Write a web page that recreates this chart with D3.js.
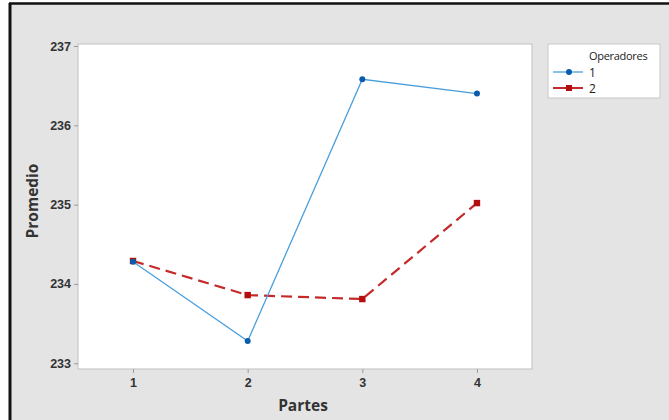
<!DOCTYPE html>
<html>
<head>
<meta charset="utf-8">
<script src="https://cdn.jsdelivr.net/npm/d3@7/dist/d3.min.js"></script>
<style>
  html, body { margin: 0; padding: 0; background: #ffffff; }
  svg { display: block; font-family: "Open Sans", "Noto Sans", sans-serif; }
</style>
</head>
<body>
<svg id="chart" width="669" height="420"></svg>
<script>
// Interaction plot data: mean per part for each operator
const partes = [1, 2, 3, 4];
const operador1 = [234.28, 233.28, 236.58, 236.40];
const operador2 = [234.29, 233.86, 233.81, 235.02];
const yTicks = [233, 234, 235, 236, 237];
const operadores = ["1", "2"];

const svg = d3.select("#chart");
const W = 669, H = 420;

// outer frame and panel background
svg.append("rect").attr("x", 10).attr("y", 4).attr("width", W - 8).attr("height", H)
  .attr("fill", "#e4e4e4");
svg.append("line").attr("x1", 10).attr("x2", 10).attr("y1", 3).attr("y2", H)
  .attr("stroke", "#111").attr("stroke-width", 3);
svg.append("line").attr("x1", 9).attr("x2", W).attr("y1", 3.5).attr("y2", 3.5)
  .attr("stroke", "#111").attr("stroke-width", 2.5);

const plot = { left: 78, top: 44, right: 532, bottom: 369 };

const x = d3.scaleLinear().domain([0.52, 4.48]).range([plot.left, plot.right]);
const y = d3.scaleLinear().domain([233, 237]).range([363.3, 46]);

svg.append("rect")
  .attr("x", plot.left).attr("y", plot.top)
  .attr("width", plot.right - plot.left).attr("height", plot.bottom - plot.top)
  .attr("fill", "#ffffff").attr("stroke", "#c8c8c8").attr("stroke-width", 1.2);

// axes
const yAxis = d3.axisLeft(y).tickValues(yTicks).tickSize(4).tickPadding(3).tickFormat(d3.format("d"));
const gy = svg.append("g").attr("transform", `translate(${plot.left},0)`).call(yAxis);
gy.select(".domain").remove();
gy.selectAll(".tick line").attr("stroke", "#9a9a9a");
gy.selectAll(".tick text").attr("fill", "#333").attr("font-size", 12.5).attr("font-weight", "bold");

const xAxis = d3.axisBottom(x).tickValues(partes).tickSize(4).tickPadding(5).tickFormat(d3.format("d"));
const gx = svg.append("g").attr("transform", `translate(0,${plot.bottom})`).call(xAxis);
gx.select(".domain").remove();
gx.selectAll(".tick line").attr("stroke", "#9a9a9a");
gx.selectAll(".tick text").attr("fill", "#333").attr("font-size", 12.5).attr("font-weight", "bold");

// axis titles
svg.append("text").attr("x", 303).attr("y", 411).attr("text-anchor", "middle")
  .attr("font-size", 15.5).attr("font-weight", "bold").attr("fill", "#333").text("Partes");
svg.append("text").attr("transform", "translate(38,201) rotate(-90)").attr("text-anchor", "middle")
  .attr("font-size", 15.5).attr("font-weight", "bold").attr("fill", "#333").text("Promedio");

const line = d3.line().x((d, i) => x(partes[i])).y(d => y(d));

const series = [
  { name: operadores[0], values: operador1, line: "#4a9fdc", mark: "#0b5cad", dash: null, width: 1.3, shape: "circle" },
  { name: operadores[1], values: operador2, line: "#c42a2a", mark: "#b30d0d", dash: "11,6", width: 2.2, shape: "square" }
];

// draw series 2 first so series 1 sits on top where they meet
[series[1], series[0]].forEach(s => {
  svg.append("path").datum(s.values).attr("d", line)
    .attr("fill", "none").attr("stroke", s.line).attr("stroke-width", s.width)
    .attr("stroke-dasharray", s.dash);
  if (s.shape === "circle") {
    svg.selectAll(null).data(s.values).enter().append("circle")
      .attr("cx", (d, i) => x(partes[i])).attr("cy", d => y(d)).attr("r", 3)
      .attr("fill", s.mark);
  } else {
    svg.selectAll(null).data(s.values).enter().append("rect")
      .attr("x", (d, i) => x(partes[i]) - 3.2).attr("y", d => y(d) - 3.2)
      .attr("width", 6.4).attr("height", 6.4).attr("fill", s.mark);
  }
});

// legend
const lg = svg.append("g");
lg.append("rect").attr("x", 548).attr("y", 44).attr("width", 112).attr("height", 54)
  .attr("fill", "#ffffff").attr("stroke", "#c8c8c8");
lg.append("text").attr("x", 589).attr("y", 60).attr("font-size", 11).attr("fill", "#222")
  .attr("letter-spacing", -0.3).text("Operadores");
series.forEach((s, i) => {
  const yy = 72 + i * 16;
  lg.append("line").attr("x1", 553).attr("x2", 583).attr("y1", yy).attr("y2", yy)
    .attr("stroke", s.line).attr("stroke-width", s.shape === "circle" ? 1.3 : 2);
  if (s.shape === "circle") {
    lg.append("circle").attr("cx", 569).attr("cy", yy).attr("r", 3).attr("fill", s.mark);
  } else {
    lg.append("rect").attr("x", 566).attr("y", yy - 3).attr("width", 6).attr("height", 6).attr("fill", s.mark);
  }
  lg.append("text").attr("x", 589).attr("y", yy + 4.5).attr("font-size", 12).attr("fill", "#222").text(s.name);
});
</script>
</body>
</html>
